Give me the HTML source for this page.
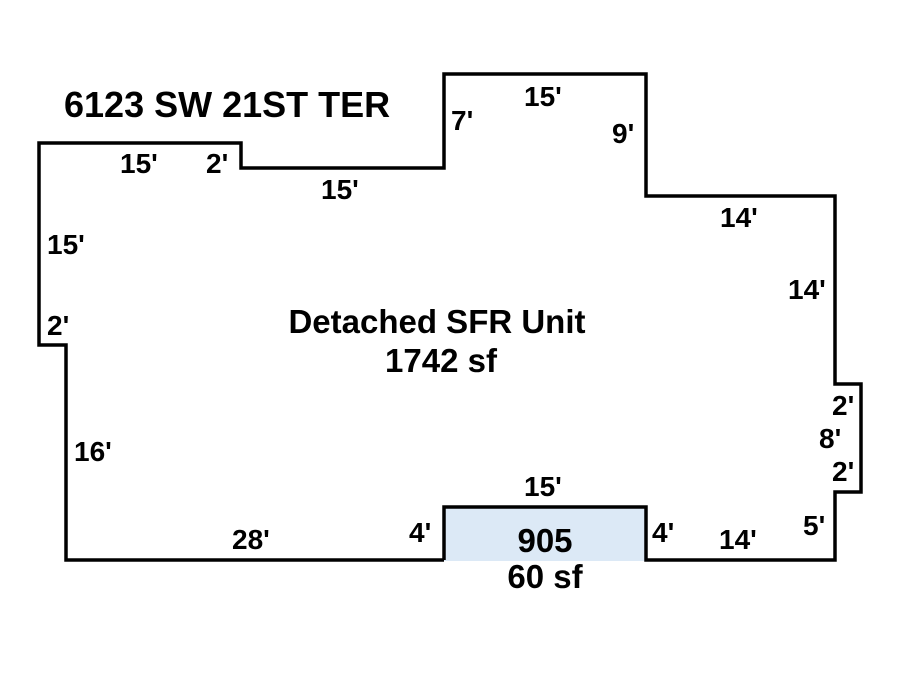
<!DOCTYPE html>
<html><head><style>
body{margin:0;background:#fff}
svg{display:block}
text{font-family:"Liberation Sans",Arial,sans-serif;font-weight:bold;fill:#000;font-size:28px}
.t{font-size:36px}
.c{font-size:33px}
</style></head><body>
<svg width="900" height="675" viewBox="0 0 900 675">
<rect x="444" y="507" width="202" height="54" fill="#dce9f6"/>
<polyline fill="none" stroke="#000" stroke-width="3.5" stroke-linejoin="miter"
 points="444,560 444,507 646,507 646,560 835,560 835,492 861,492 861,384 835,384 835,196 646,196 646,74 444,74 444,168 241,168 241,143 39,143 39,345 66,345 66,560 444,560"/>
<text class="t" x="64" y="117">6123 SW 21ST TER</text>
<text x="120" y="173">15'</text>
<text x="206" y="173">2'</text>
<text x="321" y="199">15'</text>
<text x="451" y="130">7'</text>
<text x="524" y="106">15'</text>
<text x="612" y="143">9'</text>
<text x="720" y="227">14'</text>
<text x="788" y="299">14'</text>
<text x="47" y="254">15'</text>
<text x="47" y="335">2'</text>
<text x="74" y="461">16'</text>
<text x="232" y="549">28'</text>
<text x="409" y="542">4'</text>
<text x="524" y="496">15'</text>
<text x="652" y="542">4'</text>
<text x="719" y="549">14'</text>
<text x="803" y="535">5'</text>
<text x="832" y="415">2'</text>
<text x="819" y="448">8'</text>
<text x="832" y="481">2'</text>
<text class="c" x="437" y="333" text-anchor="middle">Detached SFR Unit</text>
<text class="c" x="441" y="372" text-anchor="middle">1742 sf</text>
<text class="c" x="545" y="552" text-anchor="middle">905</text>
<text class="c" x="545" y="588" text-anchor="middle">60 sf</text>
</svg>
</body></html>
